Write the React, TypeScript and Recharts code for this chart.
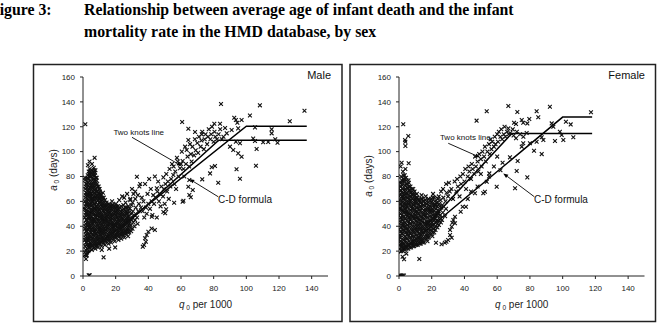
import React from 'react';
import { ScatterChart, Scatter, XAxis, YAxis, ReferenceLine, ReferenceDot } from 'recharts';

const xTicks = [0, 20, 40, 60, 80, 100, 120, 140];
const yTicks = [0, 20, 40, 60, 80, 100, 120, 140, 160];

// [q0 per 1000, a0 in days]
const malePoints: [number, number][] = [
  // low-mortality cluster
  [1.1, 19], [1.4, 24], [1.2, 29], [1.7, 33], [1.3, 38], [1.6, 42], [1.1, 47], [1.8, 51], [1.5, 56], [1.2, 60], [1.7, 65], [1.4, 70], [1.9, 74], [1.3, 79],
  [2.2, 17], [2.6, 22], [2.1, 27], [2.8, 31], [2.4, 36], [2.9, 40], [2.3, 45], [2.7, 49], [2.0, 53], [2.5, 58], [2.8, 62], [2.2, 67], [2.6, 71], [2.4, 76], [2.9, 81],
  [3.3, 20], [3.7, 25], [3.1, 30], [3.5, 34], [3.9, 39], [3.2, 43], [3.6, 48], [3.0, 52], [3.8, 57], [3.4, 61], [3.1, 66], [3.7, 70], [3.3, 75], [3.9, 80], [3.5, 84],
  [4.1, 23], [4.6, 27], [4.3, 32], [4.8, 37], [4.2, 41], [4.7, 46], [4.4, 50], [4.0, 55], [4.9, 59], [4.5, 64], [4.2, 68], [4.8, 73], [4.4, 77], [4.6, 82], [4.1, 86],
  [5.4, 21], [5.0, 26], [5.7, 30], [5.2, 35], [5.8, 39], [5.5, 44], [5.1, 48], [5.9, 53], [5.3, 57], [5.6, 62], [5.0, 66], [5.4, 71], [5.8, 75], [5.2, 80], [5.7, 85],
  [6.2, 24], [6.7, 28], [6.4, 33], [6.9, 37], [6.1, 42], [6.6, 46], [6.3, 51], [6.8, 55], [6.0, 60], [6.5, 64], [6.9, 69], [6.2, 73], [6.7, 78], [6.4, 83], [6.6, 87],
  [7.5, 22], [7.1, 27], [7.8, 31], [7.3, 36], [7.6, 40], [7.0, 45], [7.9, 49], [7.4, 54], [7.2, 58], [7.7, 63], [7.1, 67], [7.5, 72], [7.8, 76], [7.3, 81], [7.6, 85],
  [8.3, 25], [8.7, 29], [8.1, 34], [8.9, 38], [8.4, 43], [8.0, 47], [8.6, 52], [8.2, 56], [8.8, 61], [8.5, 65], [8.1, 70], [8.7, 74], [8.4, 79],
  [9.2, 23], [9.6, 28], [9.1, 32], [9.8, 37], [9.4, 41], [9.0, 46], [9.7, 50], [9.3, 55], [9.9, 59], [9.5, 64], [9.1, 68], [9.6, 72],
  [10.4, 26], [10.1, 30], [10.7, 35], [10.3, 39], [10.9, 44], [10.5, 48], [10.2, 53], [10.8, 57], [10.4, 62], [10.6, 66], [10.1, 70],
  [11.3, 24], [11.8, 29], [11.1, 33], [11.6, 38], [11.4, 42], [11.9, 47], [11.2, 51], [11.7, 56], [11.5, 60], [11.0, 65],
  [12.5, 27], [12.1, 31], [12.8, 36], [12.3, 40], [12.6, 45], [12.0, 49], [12.9, 54], [12.4, 58], [12.7, 63], [12.2, 67],
  [13.4, 25], [13.8, 30], [13.1, 34], [13.6, 39], [13.3, 43], [13.9, 48], [13.2, 52], [13.7, 57], [13.5, 61],
  [14.3, 28], [14.7, 32], [14.1, 37], [14.9, 41], [14.5, 46], [14.2, 50], [14.8, 55], [14.4, 59],
  [15.6, 26], [15.2, 31], [15.8, 35], [15.4, 40], [15.0, 44], [15.7, 49], [15.3, 53], [15.9, 58],
  [16.5, 29], [16.1, 33], [16.8, 38], [16.3, 42], [16.9, 47], [16.4, 51], [16.7, 56],
  [17.2, 27], [17.7, 32], [17.4, 36], [17.9, 41], [17.1, 45], [17.6, 50], [17.3, 54], [17.8, 60],
  [18.6, 30], [18.2, 34], [18.9, 39], [18.4, 43], [18.1, 48], [18.7, 52], [18.3, 57],
  [19.4, 28], [19.8, 33], [19.1, 37], [19.6, 42], [19.3, 46], [19.9, 51], [19.5, 55],
  [20.3, 31], [20.8, 35], [20.1, 40], [20.6, 44], [20.4, 49], [20.9, 53], [20.2, 58],
  [21.7, 29], [21.2, 34], [21.9, 38], [21.4, 43], [21.1, 47], [21.6, 52], [21.3, 56],
  [22.5, 32], [22.1, 36], [22.8, 41], [22.3, 45], [22.9, 50], [22.6, 55], [22.2, 61],
  [23.4, 30], [23.8, 35], [23.1, 39], [23.6, 44], [23.3, 48], [23.9, 53],
  [24.6, 33], [24.2, 37], [24.9, 42], [24.4, 46], [24.1, 51], [24.7, 57],
  [25.3, 31], [25.8, 36], [25.1, 40], [25.6, 45], [25.4, 49], [25.9, 55], [25.2, 63],
  [26.4, 34], [26.9, 38], [26.2, 43], [26.7, 47], [26.5, 52], [26.1, 59],
  [27.6, 32], [27.2, 37], [27.9, 41], [27.4, 46], [27.1, 50], [27.7, 56],
  [28.3, 35], [28.8, 39], [28.5, 44], [28.1, 48], [28.6, 54], [28.9, 61],
  [29.5, 36], [29.2, 41], [29.8, 45], [29.4, 50], [29.7, 57],
  [30.3, 38], [30.8, 43], [30.1, 47], [30.6, 52], [30.4, 59], [30.9, 66],
  [31.5, 40], [31.9, 45], [31.2, 49], [32.3, 55], [32.0, 62],
  [33.4, 42], [33.1, 47], [33.8, 52], [34.2, 58], [33.6, 65], [34.5, 72],
  // second pass through the cluster
  [1.6, 21], [1.9, 27], [1.5, 31], [1.8, 36], [1.4, 40], [1.9, 45], [1.6, 49], [1.3, 54], [1.8, 58], [1.5, 63], [1.9, 67], [1.6, 72], [1.2, 77],
  [2.5, 19], [2.3, 25], [2.7, 29], [2.2, 34], [2.6, 38], [2.4, 43], [2.8, 47], [2.3, 51], [2.7, 56], [2.4, 60], [2.9, 65], [2.5, 69], [2.1, 74], [2.7, 79],
  [3.5, 23], [3.2, 28], [3.8, 32], [3.4, 37], [3.1, 41], [3.7, 46], [3.3, 50], [3.9, 55], [3.6, 59], [3.2, 64], [3.8, 68], [3.5, 73], [3.1, 78], [3.7, 82],
  [4.5, 25], [4.2, 30], [4.8, 35], [4.4, 39], [4.9, 44], [4.1, 48], [4.7, 53], [4.3, 57], [4.8, 62], [4.4, 66], [4.0, 71], [4.6, 75], [4.9, 80], [4.3, 84],
  [5.5, 24], [5.2, 28], [5.9, 33], [5.4, 37], [5.1, 42], [5.7, 46], [5.3, 51], [5.8, 55], [5.5, 60], [5.1, 64], [5.7, 69], [5.3, 73], [5.9, 78], [5.4, 83],
  [6.5, 26], [6.1, 31], [6.8, 35], [6.3, 40], [6.9, 44], [6.4, 49], [6.0, 53], [6.7, 58], [6.3, 62], [6.8, 67], [6.1, 71], [6.6, 76], [6.2, 81], [6.9, 85],
  [7.5, 25], [7.2, 29], [7.9, 34], [7.4, 38], [7.0, 43], [7.7, 47], [7.3, 52], [7.8, 56], [7.5, 61], [7.1, 65], [7.6, 70], [7.3, 74], [7.9, 79], [7.4, 83],
  [8.5, 27], [8.2, 32], [8.8, 36], [8.4, 41], [8.9, 45], [8.3, 50], [8.7, 54], [8.1, 59], [8.6, 63], [8.3, 68], [8.8, 72], [8.2, 77],
  [9.5, 26], [9.2, 30], [9.8, 35], [9.3, 39], [9.7, 44], [9.1, 48], [9.6, 53], [9.2, 57], [9.8, 62], [9.4, 66], [9.9, 70],
  [10.5, 28], [10.2, 33], [10.8, 37], [10.3, 42], [10.7, 46], [10.1, 51], [10.6, 55], [10.3, 60], [10.9, 64], [10.4, 68],
  [11.5, 27], [11.2, 31], [11.8, 36], [11.3, 40], [11.7, 45], [11.1, 49], [11.6, 54], [11.3, 58], [11.9, 63],
  [12.5, 29], [12.2, 34], [12.8, 38], [12.4, 43], [12.9, 47], [12.3, 52], [12.7, 56], [12.1, 61],
  [13.5, 28], [13.2, 32], [13.8, 37], [13.3, 41], [13.9, 46], [13.4, 50], [13.7, 55], [13.1, 59],
  [14.5, 30], [14.2, 35], [14.8, 39], [14.3, 44], [14.7, 48], [14.1, 53], [14.6, 57],
  [15.5, 29], [15.1, 33], [15.7, 38], [15.3, 42], [15.9, 47], [15.4, 51], [15.8, 56],
  [16.5, 31], [16.2, 36], [16.8, 40], [16.4, 45], [16.9, 49], [16.3, 54],
  [17.5, 30], [17.1, 34], [17.8, 39], [17.4, 43], [17.9, 48], [17.2, 52], [17.6, 57],
  [18.5, 32], [18.1, 37], [18.8, 41], [18.3, 46], [18.9, 50], [18.4, 55],
  [19.5, 31], [19.2, 35], [19.7, 40], [19.3, 44], [19.9, 49], [19.4, 53],
  [20.5, 33], [20.1, 38], [20.7, 42], [20.3, 47], [20.9, 51], [20.4, 56],
  [21.5, 32], [21.1, 36], [21.8, 41], [21.3, 45], [21.9, 50], [21.4, 54],
  [22.5, 34], [22.2, 39], [22.8, 43], [22.4, 48], [22.9, 52],
  [23.5, 33], [23.1, 37], [23.7, 42], [23.3, 46], [23.9, 51], [23.4, 56],
  [24.5, 35], [24.1, 40], [24.8, 44], [24.3, 49], [24.9, 54],
  [25.5, 34], [25.2, 38], [25.8, 43], [25.3, 47], [25.9, 52],
  [26.5, 36], [26.1, 41], [26.8, 45], [26.3, 50], [26.9, 55],
  [27.5, 35], [27.2, 39], [27.8, 44], [27.3, 48], [27.9, 53],
  [28.5, 37], [28.2, 42], [28.8, 46], [28.4, 51],
  // stray points around the cluster
  [1.4, 122], [3.5, 0.5], [4.1, 0.5], [12.6, 15], [4.0, 92], [7.1, 95], [1.8, 13.7], [2.2, 16.4], [19.7, 23],
  [3.0, 89], [5.5, 90], [11.5, 21], [16.0, 22], [24, 64], [27, 66], [30, 70], [32, 68], [35, 74], [29, 62],
  // rising band
  [33, 79.8], [35.5, 55], [36, 63], [36.5, 52], [37, 60], [37.5, 47], [38, 74], [38.5, 55], [39, 50], [39.5, 66],
  [40, 58], [40.5, 78], [41, 54], [41.5, 70], [42, 60], [42.5, 49], [43, 65], [43.5, 58], [44, 80], [44.5, 63],
  [45.2, 70.5], [45.5, 68], [46, 76], [46.5, 60], [47, 66], [47.5, 56], [48, 72], [49.2, 79.3], [49, 64], [49.5, 70],
  [50, 58], [50.5, 74], [51, 82], [51.5, 68], [52, 76], [52.5, 62], [53, 86], [53.5, 72], [54, 78], [54.5, 90],
  [55.3, 81.2], [55.5, 88], [56, 74], [56.5, 84], [57, 70], [57.5, 95], [58, 92], [58.5, 80], [59.4, 86.6], [60, 90],
  [60.5, 100], [61, 92.4], [61.5, 86], [62, 80], [62.5, 104], [63.5, 101.3], [63, 90], [64.5, 109.3], [64, 96], [65, 88],
  [65.5, 106], [66, 98], [66.5, 92], [67, 104], [68, 97], [68.5, 110], [69, 101], [70, 107], [70.5, 99], [71, 112],
  [72, 104], [72.5, 109], [73, 116], [74, 102], [74.5, 110], [75, 114], [76, 106], [76.5, 112], [77, 118], [78, 110],
  [78.5, 114], [79, 120], [80, 108], [80.5, 116], [81, 112], [82, 110], [83, 114], [84, 118], [85, 110], [86, 112], [87, 119],
  // below the lines
  [36.6, 23.6], [37.4, 24.9], [38.5, 27.5], [38, 30.3], [39, 33], [40, 35.6], [42, 38.2], [44, 37],
  [50.9, 53.6], [50.3, 50.4], [42.1, 47.7], [45.2, 47], [49.2, 51.5], [55.8, 58.9], [61, 59.7], [61.5, 60.5],
  [64.5, 71.8], [67.2, 69.1], [65.1, 65.1], [66, 63.3], [65.1, 77.2], [73, 77.7], [77.8, 82.5], [78.8, 87.4],
  [80.8, 88.4], [82.8, 75], [94, 85.8], [96.1, 78.2], [105.9, 88.7],
  // high mortality
  [84.5, 138.3], [108.3, 137.2], [135.6, 132.9], [126.6, 124.4], [102.2, 129], [92.6, 127.3], [93.6, 125.4],
  [94.5, 123.2], [97.1, 125.4], [60.7, 123.8], [80.4, 122.4], [83.9, 122.4], [64.5, 118.4], [68.6, 115.8],
  [72.7, 113.9], [88, 114.7], [91, 117.4], [95, 118.7], [105.3, 119.5], [115.5, 117.9], [115.5, 114.7],
  [104.2, 110.5], [105.3, 108.6], [110.3, 107.5], [113.4, 107.7], [117.7, 109.9], [119.1, 107.2], [106.3, 102.1],
  [93.6, 108], [96.1, 106.7], [90, 104], [92, 101.3], [95, 98.6], [97.1, 95.9],
];

const femalePoints: [number, number][] = [
  // low-mortality cluster
  [0.4, 22], [0.7, 28], [0.5, 33], [0.9, 39], [0.3, 44], [0.8, 50], [0.6, 55], [0.4, 61], [0.9, 66], [0.6, 72],
  [1.3, 20], [1.7, 25], [1.1, 31], [1.5, 36], [1.9, 42], [1.2, 47], [1.6, 53], [1.4, 58], [1.8, 64], [1.1, 69], [1.5, 75], [1.3, 80],
  [2.4, 23], [2.8, 29], [2.1, 34], [2.6, 40], [2.3, 45], [2.9, 51], [2.0, 56], [2.5, 62], [2.7, 67], [2.2, 73], [2.6, 78], [2.4, 84],
  [3.5, 21], [3.1, 26], [3.8, 32], [3.3, 37], [3.6, 43], [3.0, 48], [3.9, 54], [3.4, 59], [3.2, 65], [3.7, 70], [3.1, 76], [3.5, 81],
  [4.2, 24], [4.7, 30], [4.4, 35], [4.9, 41], [4.1, 46], [4.6, 52], [4.3, 57], [4.8, 63], [4.0, 68], [4.5, 74], [4.3, 79],
  [5.6, 22], [5.1, 27], [5.8, 33], [5.3, 38], [5.9, 44], [5.4, 49], [5.0, 55], [5.7, 60], [5.2, 66], [5.5, 71], [5.8, 77],
  [6.3, 25], [6.8, 31], [6.1, 36], [6.6, 42], [6.4, 47], [6.9, 53], [6.2, 58], [6.7, 64], [6.5, 69], [6.0, 75],
  [7.4, 23], [7.9, 28], [7.2, 34], [7.7, 39], [7.1, 45], [7.5, 50], [7.8, 56], [7.3, 61], [7.6, 67], [7.0, 72],
  [8.5, 26], [8.1, 32], [8.8, 37], [8.3, 43], [8.6, 48], [8.2, 54], [8.9, 59], [8.4, 65], [8.7, 70],
  [9.3, 24], [9.7, 29], [9.1, 35], [9.6, 40], [9.4, 46], [9.9, 51], [9.2, 57], [9.8, 62], [9.5, 68],
  [10.6, 27], [10.2, 33], [10.8, 38], [10.4, 44], [10.1, 49], [10.7, 55], [10.3, 60], [10.9, 66],
  [11.4, 25], [11.9, 30], [11.2, 36], [11.7, 41], [11.5, 47], [11.1, 52], [11.8, 58], [11.3, 63],
  [12.7, 28], [12.3, 34], [12.9, 39], [12.5, 45], [12.1, 50], [12.8, 56], [12.4, 61],
  [13.2, 26], [13.6, 31], [13.9, 37], [13.4, 42], [13.7, 48], [13.1, 53], [13.5, 59], [13.8, 65],
  [14.5, 29], [14.1, 35], [14.8, 40], [14.3, 46], [14.9, 51], [14.6, 57], [14.2, 62],
  [15.3, 27], [15.8, 32], [15.1, 38], [15.6, 43], [15.4, 49], [15.9, 54], [15.2, 60],
  [16.6, 30], [16.2, 36], [16.9, 41], [16.4, 47], [16.1, 52], [16.7, 58], [16.3, 64],
  [17.4, 28], [17.8, 33], [17.1, 39], [17.6, 44], [17.3, 50], [17.9, 55], [17.5, 61],
  [18.3, 31], [18.7, 37], [18.1, 42], [18.9, 48], [18.5, 53], [18.2, 59],
  [19.6, 34], [19.2, 40], [19.8, 45], [19.4, 51], [19.1, 56], [19.7, 62],
  [20.4, 32], [20.9, 38], [20.2, 43], [20.7, 49], [20.5, 54], [20.1, 60], [20.8, 66],
  [21.5, 35], [21.1, 41], [21.8, 46], [21.3, 52], [21.9, 57], [21.6, 63],
  [22.3, 37], [22.8, 43], [22.1, 48], [22.6, 54], [22.9, 59],
  [23.5, 39], [23.2, 45], [23.8, 50], [23.4, 56], [23.7, 62],
  [24.4, 41], [24.9, 47], [24.1, 52], [24.6, 58], [24.3, 64],
  [25.6, 43], [25.2, 49], [25.9, 55], [25.4, 61], [25.7, 68],
  [26.3, 45], [26.8, 51], [26.5, 57], [27.1, 63], [26.9, 70],
  [28.2, 48], [28.7, 54], [28.4, 60], [29.1, 67], [28.8, 74],
  // second pass through the cluster
  [0.6, 25], [0.3, 31], [0.8, 36], [0.5, 42], [0.9, 47], [0.4, 53], [0.7, 58], [0.3, 64], [0.8, 69], [0.5, 75],
  [1.5, 23], [1.2, 28], [1.8, 34], [1.3, 39], [1.7, 45], [1.1, 50], [1.9, 56], [1.4, 61], [1.6, 67], [1.2, 72], [1.8, 77],
  [2.5, 20], [2.2, 26], [2.8, 31], [2.4, 37], [2.9, 42], [2.1, 48], [2.7, 53], [2.3, 59], [2.8, 64], [2.5, 70], [2.1, 76], [2.7, 81],
  [3.5, 24], [3.2, 29], [3.8, 35], [3.4, 40], [3.9, 46], [3.1, 51], [3.7, 57], [3.3, 62], [3.8, 68], [3.6, 73], [3.2, 78],
  [4.5, 22], [4.1, 27], [4.8, 33], [4.3, 38], [4.9, 44], [4.4, 49], [4.0, 55], [4.7, 60], [4.2, 66], [4.8, 71], [4.6, 77],
  [5.5, 25], [5.2, 30], [5.8, 36], [5.3, 41], [5.9, 47], [5.1, 52], [5.7, 58], [5.4, 63], [5.9, 69], [5.2, 74],
  [6.5, 23], [6.2, 28], [6.8, 34], [6.3, 39], [6.9, 45], [6.1, 50], [6.7, 56], [6.4, 61], [6.8, 67], [6.2, 72],
  [7.5, 26], [7.2, 31], [7.8, 37], [7.3, 42], [7.9, 48], [7.1, 53], [7.7, 59], [7.4, 64], [7.8, 70],
  [8.5, 24], [8.2, 29], [8.8, 35], [8.3, 40], [8.9, 46], [8.1, 51], [8.7, 57], [8.4, 62], [8.9, 67],
  [9.5, 27], [9.2, 32], [9.8, 38], [9.3, 43], [9.9, 49], [9.1, 54], [9.7, 60], [9.4, 65],
  [10.5, 25], [10.2, 30], [10.8, 36], [10.3, 41], [10.9, 47], [10.1, 52], [10.7, 58], [10.4, 63],
  [11.5, 28], [11.2, 33], [11.8, 39], [11.3, 44], [11.9, 50], [11.1, 55], [11.7, 61],
  [12.5, 26], [12.2, 31], [12.8, 37], [12.3, 42], [12.9, 48], [12.1, 53], [12.7, 59],
  [13.5, 29], [13.2, 34], [13.8, 40], [13.3, 45], [13.9, 51], [13.1, 56], [13.7, 62],
  [14.5, 27], [14.2, 32], [14.8, 38], [14.3, 43], [14.9, 49], [14.1, 54], [14.7, 60],
  [15.5, 30], [15.2, 35], [15.8, 41], [15.3, 46], [15.9, 52], [15.1, 57],
  [16.5, 33], [16.2, 38], [16.8, 44], [16.3, 49], [16.9, 55], [16.1, 61],
  [17.5, 31], [17.2, 36], [17.8, 42], [17.3, 47], [17.9, 53], [17.1, 58],
  [18.5, 34], [18.2, 40], [18.8, 45], [18.3, 51], [18.9, 56], [18.1, 62],
  [19.5, 37], [19.2, 42], [19.8, 48], [19.3, 53], [19.9, 59],
  [20.5, 35], [20.2, 41], [20.8, 46], [20.3, 52], [20.9, 57], [20.6, 63],
  [21.5, 38], [21.2, 44], [21.8, 49], [21.3, 55], [21.9, 60],
  [22.5, 40], [22.2, 46], [22.8, 51], [22.4, 57],
  [23.5, 42], [23.2, 48], [23.8, 53], [23.3, 59],
  [24.5, 44], [24.2, 50], [24.8, 56],
  // stray points around the cluster
  [2.6, 122], [3.7, 109.3], [3.9, 108], [3.9, 104.5], [5.7, 112.5], [1.6, 91.1], [5.9, 90.6], [3.9, 86],
  [3.1, 13.4], [2.2, 15.5], [12.4, 13.7], [0.3, 0.3], [0.9, 0.3], [1.6, 0.3], [2.3, 0.3], [3.0, 0.3], [4.5, 18], [1.0, 88],
  [22.6, 26.8], [26, 25.5], [28, 26.8], [29, 27.5], [30, 29], [31.2, 33], [32.2, 30.8], [32.6, 42.8], [33.2, 45],
  [34.2, 47.7], [34.2, 42.4], [32.2, 39.6], [31.2, 37], [37.7, 51.7], [38.9, 55.7], [40.9, 55.7],
  // rising band
  [30, 64], [30.5, 75], [31, 68], [32, 70], [33, 62], [34, 76], [35, 68], [35.5, 78], [36, 72], [37, 64],
  [37.5, 80], [38, 74], [39, 82], [40, 76], [40.5, 86], [41, 70], [42, 80], [42.5, 88], [43, 84], [44, 78],
  [44.5, 90], [45, 86], [46, 82], [46.5, 96], [47, 88], [47.4, 124.9], [48, 92], [48.5, 84], [49, 98], [50, 94],
  [50.5, 88], [51, 100], [52, 96], [52.5, 104], [53, 92], [53.6, 132.4], [54, 100], [55, 106], [55.5, 98], [56, 110],
  [56.5, 102], [57, 108], [58, 104], [58.5, 112], [59, 106], [60, 114], [60.5, 108], [61, 116], [62, 112], [62.5, 118],
  [63, 110], [64, 114], [64.5, 120], [65, 112], [66, 116], [66.8, 118.7], [67, 114], [69.5, 117.9],
  [68, 115], [70, 113], [72, 116], [74, 114], [76, 112], [78, 115],
  // below the lines
  [46.4, 66.5], [51.5, 66.5], [52.5, 67.8], [53.6, 75.8], [55.2, 82.5], [59.7, 71.8], [63.3, 91.1], [67.8, 95.4],
  [70.9, 70.5], [71.9, 84.4], [72.5, 92.4], [78.4, 79.3], [44, 68], [42, 62], [48, 72], [50, 82], [55, 80],
  [58, 88], [60, 96], [62, 85],
  // high mortality
  [66.8, 136.7], [72.3, 131.8], [92.2, 136.1], [84.1, 132.4], [85.1, 127.6], [117.3, 131.6], [75, 125.4],
  [75.9, 123.2], [78.4, 122.7], [79.6, 126.2], [70.3, 123.2], [71.5, 122.2], [102, 124], [104.9, 121.9],
  [93.3, 122.7], [94.3, 120], [98.3, 116], [99.4, 113.3], [100.4, 109.3], [95.3, 108.5], [106.5, 111.5],
  [87.2, 111.5], [88.2, 109.3], [84.1, 108], [75.9, 106.7], [75, 104], [80, 106.7], [82.5, 100.7], [87.2, 98],
  [71.5, 110.7],
];

// knots of the fitted lines
const maleTwoKnots: [number, number][] = [[0, 54.5], [23, 37.7], [83.1, 109.2], [137, 109.2]];
const maleCD: [number, number][] = [[0, 15.5], [100, 120.5], [137, 120.5]];
const femaleTwoKnots: [number, number][] = [[0, 54.4], [17.2, 41.5], [68.9, 114.6], [118, 114.6]];
const femaleCD: [number, number][] = [[0, 18.3], [100, 127.8], [118, 127.8]];

const toRows = (arr: [number, number][]) => arr.map(([q, a]) => ({ q, a }));

const FONT = 'Liberation Sans, Arial, sans-serif';

const Cross = (props: any) => {
  const { cx, cy } = props;
  if (cx == null || cy == null) return <g />;
  const s = 1.9;
  return (
    <path
      d={`M${cx - s},${cy - s}L${cx + s},${cy + s}M${cx - s},${cy + s}L${cx + s},${cy - s}`}
      stroke="#111"
      strokeWidth={1.1}
    />
  );
};

const NoMark = () => <g />;

const Arrow = (p: any) => {
  const { x1, y1, x2, y2 } = p;
  const ang = Math.atan2(y2 - y1, x2 - x1);
  const len = 5;
  const w = 2;
  const bx = x2 - len * Math.cos(ang);
  const by = y2 - len * Math.sin(ang);
  const nx = -Math.sin(ang) * w;
  const ny = Math.cos(ang) * w;
  return (
    <g>
      <line x1={x1} y1={y1} x2={bx} y2={by} stroke="#000" strokeWidth={0.9} />
      <polygon points={`${x2},${y2} ${bx + nx},${by + ny} ${bx - nx},${by - ny}`} fill="#000" />
    </g>
  );
};

const noteText = (text: string, size: number) => (p: any) => (
  <text x={p.cx} y={p.cy} dy="0.35em" fontSize={size} fontFamily={FONT} fill="#111">
    {text}
  </text>
);

type Note = { text: string; size: number; at: [number, number]; from: [number, number]; to: [number, number] };

type PanelProps = {
  left: number;
  width: number;
  yWidth: number;
  right: number;
  points: [number, number][];
  twoKnots: [number, number][];
  cd: [number, number][];
  notes: Note[];
};

function Panel({ left, width, yWidth, right, points, twoKnots, cd, notes }: PanelProps) {
  const tick = { fontSize: 8, fill: '#222', fontFamily: FONT };
  return (
    <div style={{ position: 'absolute', left, top: 64 }}>
      <ScatterChart width={width} height={258} margin={{ top: 13, right, bottom: 0, left: 0 }}>
        <XAxis
          type="number"
          dataKey="q"
          domain={[0, 150]}
          ticks={xTicks}
          interval={0}
          height={46}
          tickSize={3}
          tickMargin={6}
          stroke="#222"
          tick={tick}
          allowDataOverflow
        />
        <YAxis
          type="number"
          dataKey="a"
          domain={[0, 160]}
          ticks={yTicks}
          interval={0}
          width={yWidth}
          tickSize={3}
          tickMargin={5}
          stroke="#222"
          tick={tick}
          allowDataOverflow
        />
        {/* fitted lines sit underneath the observations */}
        <Scatter
          data={toRows(twoKnots)}
          line={{ stroke: '#000', strokeWidth: 1.5 }}
          lineType="joint"
          shape={NoMark}
          isAnimationActive={false}
        />
        <Scatter
          data={toRows(cd)}
          line={{ stroke: '#000', strokeWidth: 1.5 }}
          lineType="joint"
          shape={NoMark}
          isAnimationActive={false}
        />
        <Scatter data={toRows(points)} shape={Cross} isAnimationActive={false} />
        {notes.map((n) => (
          <ReferenceLine
            key={n.text + '-arrow'}
            segment={[{ x: n.from[0], y: n.from[1] }, { x: n.to[0], y: n.to[1] }]}
            shape={Arrow}
          />
        ))}
        {notes.map((n) => (
          <ReferenceDot key={n.text} x={n.at[0]} y={n.at[1]} r={0} shape={noteText(n.text, n.size)} />
        ))}
      </ScatterChart>
    </div>
  );
}

const maleNotes: Note[] = [
  { text: 'Two knots line', size: 8, at: [18.6, 115.8], from: [30, 111.5], to: [60.5, 88.4] },
  { text: 'C-D formula', size: 10, at: [82.7, 61.9], from: [82.8, 63.7], to: [65.1, 78] },
];

const femaleNotes: Note[] = [
  { text: 'Two knots line', size: 8, at: [25, 111.5], from: [30.1, 106.7], to: [49.5, 95.4] },
  { text: 'C-D formula', size: 10, at: [82.5, 61.7], from: [82.7, 63.7], to: [63.7, 82.5] },
];

function AxisTitles({ cx, yx, yy }: { cx: number; yx: number; yy: number }) {
  return (
    <g fontFamily={FONT} fontSize={10} fill="#222">
      <text x={cx} y={308} textAnchor="middle">
        <tspan fontStyle="italic">q</tspan>
        <tspan fontSize={6.5} dy={2}> 0</tspan>
        <tspan dy={-2}> per 1000</tspan>
      </text>
      <text transform={`translate(${yx},${yy}) rotate(-90)`} textAnchor="middle">
        <tspan fontStyle="italic">a</tspan>
        <tspan fontSize={6.5} dy={2}> 0</tspan>
        <tspan dy={-2}> (days)</tspan>
      </text>
    </g>
  );
}

export default function App() {
  return (
    <div style={{ position: 'absolute', left: 0, top: 0, width: 660, height: 330, background: '#fff', overflow: 'hidden' }}>
      <Panel left={33} width={309} yWidth={50} right={14} points={malePoints} twoKnots={maleTwoKnots} cd={maleCD} notes={maleNotes} />
      <Panel left={350} width={306} yWidth={49} right={11.5} points={femalePoints} twoKnots={femaleTwoKnots} cd={femaleCD} notes={femaleNotes} />
      <svg width={660} height={330} style={{ position: 'absolute', left: 0, top: 0, pointerEvents: 'none' }}>
        <g fontFamily="Liberation Serif, Times New Roman, serif" fontWeight="bold" fontSize={15.8} fill="#000">
          <text x={-10} y={15}>Figure 3:</text>
          <text x={84} y={15}>Relationship between average age of infant death and the infant</text>
          <text x={84} y={36.5}>mortality rate in the HMD database, by sex</text>
        </g>
        <rect x={33.5} y={64.5} width={308.5} height={257} fill="none" stroke="#222" strokeWidth={1.5} />
        <rect x={350} y={64.5} width={305.5} height={257} fill="none" stroke="#222" strokeWidth={1.5} />
        <text x={331} y={79} textAnchor="end" fontSize={11} fontFamily={FONT} fill="#111">Male</text>
        <text x={645} y={79} textAnchor="end" fontSize={11} fontFamily={FONT} fill="#111">Female</text>
        <AxisTitles cx={205.5} yx={57} yy={170} />
        <AxisTitles cx={521.7} yx={372} yy={176} />
      </svg>
    </div>
  );
}
